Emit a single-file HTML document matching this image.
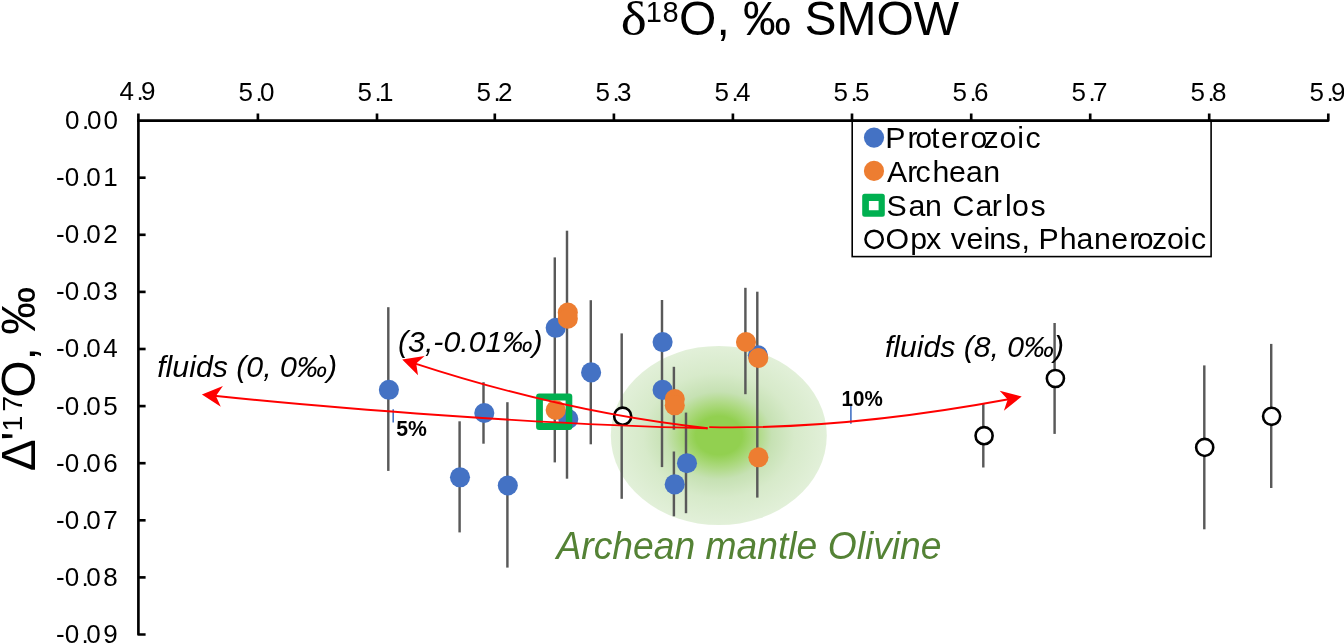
<!DOCTYPE html>
<html lang="en"><head><meta charset="utf-8"><title>Triple oxygen isotope plot</title>
<style>
html,body{margin:0;padding:0;background:#fff;}
body{width:1344px;height:644px;overflow:hidden;}
svg{display:block;}
text{font-family:'Liberation Sans',sans-serif;fill:#000;}
.tick{font-size:26px;}
.leg{font-size:30.3px;}
.it{font-style:italic;font-size:29.5px;}
.pct{font-weight:bold;font-size:21.2px;}
</style></head><body>
<svg width="1344" height="644" viewBox="0 0 1344 644">
<defs>
<radialGradient id="gm" cx="50%" cy="50%" r="50%">
<stop offset="0" stop-color="#92D050"/>
<stop offset="0.215" stop-color="#92D050"/>
<stop offset="0.35" stop-color="#ACD97F"/>
<stop offset="0.49" stop-color="#C6E1B3"/>
<stop offset="0.70" stop-color="#D7EACA"/>
<stop offset="1" stop-color="#E2F0D9"/>
</radialGradient>
</defs>
<rect width="1344" height="644" fill="#fff"/>
<ellipse cx="718.8" cy="435.5" rx="108" ry="89.6" fill="url(#gm)"/>
<g stroke="#595959" stroke-width="2.45" fill="none">
<line x1="388.3" y1="307.2" x2="388.3" y2="470.9"/>
<line x1="459.6" y1="421.3" x2="459.6" y2="532.4"/>
<line x1="483.5" y1="382.2" x2="483.5" y2="443.7"/>
<line x1="507.4" y1="402.2" x2="507.4" y2="567.6"/>
<line x1="554.8" y1="257.4" x2="554.8" y2="462.4"/>
<line x1="567.0" y1="230.7" x2="567.0" y2="478.7"/>
<line x1="590.8" y1="300.2" x2="590.8" y2="444.3"/>
<line x1="621.7" y1="333.4" x2="621.7" y2="498.8"/>
<line x1="662.0" y1="300.0" x2="662.0" y2="467.1"/>
<line x1="673.9" y1="366.8" x2="673.9" y2="429.7"/>
<line x1="673.9" y1="451.5" x2="673.9" y2="516.3"/>
<line x1="686.0" y1="412.6" x2="686.0" y2="513.2"/>
<line x1="745.4" y1="287.8" x2="745.4" y2="394.2"/>
<line x1="757.3" y1="291.7" x2="757.3" y2="497.6"/>
<line x1="983.3" y1="403.5" x2="983.3" y2="467.5"/>
<line x1="1054.6" y1="323.0" x2="1054.6" y2="433.9"/>
<line x1="1204.3" y1="365.4" x2="1204.3" y2="529.3"/>
<line x1="1271.2" y1="343.9" x2="1271.2" y2="488.0"/>
</g>
<g fill="#4472C4">
<circle cx="388.9" cy="389.8" r="10.05"/>
<circle cx="460.0" cy="477.3" r="10.05"/>
<circle cx="484.3" cy="413.0" r="10.05"/>
<circle cx="507.8" cy="485.5" r="10.05"/>
<circle cx="555.7" cy="327.8" r="10.05"/>
<circle cx="568.3" cy="419.0" r="10.05"/>
<circle cx="591.1" cy="372.4" r="10.05"/>
<circle cx="662.6" cy="342.1" r="10.05"/>
<circle cx="662.6" cy="389.9" r="10.05"/>
<circle cx="674.7" cy="484.4" r="10.05"/>
<circle cx="687.0" cy="463.2" r="10.05"/>
<circle cx="757.9" cy="355.3" r="10.05"/>
</g>
<path fill-rule="evenodd" fill="#00B050" d="M539.1 393.6 H569.3 A3 3 0 0 1 572.3 396.6 V426.9 A3 3 0 0 1 569.3 429.9 H539.1 A3 3 0 0 1 536.1 426.9 V396.6 A3 3 0 0 1 539.1 393.6 Z M542.9 400.4 V423.1 H565.8 V400.4 Z"/>
<g fill="#ED7D31">
<circle cx="567.8" cy="312.6" r="10.05"/>
<circle cx="567.8" cy="318.7" r="10.05"/>
<circle cx="555.7" cy="410.0" r="10.05"/>
<circle cx="674.8" cy="399.0" r="10.05"/>
<circle cx="674.8" cy="405.3" r="10.05"/>
<circle cx="746.0" cy="342.0" r="10.05"/>
<circle cx="758.3" cy="358.0" r="10.05"/>
<circle cx="758.4" cy="457.3" r="10.05"/>
</g>
<g fill="#fff" stroke="#000" stroke-width="2.6">
<circle cx="622.7" cy="416.2" r="8.55"/>
<circle cx="984.1" cy="435.7" r="8.55"/>
<circle cx="1055.4" cy="378.5" r="8.55"/>
<circle cx="1204.7" cy="447.4" r="8.55"/>
<circle cx="1271.6" cy="416.3" r="8.55"/>
</g>
<g stroke="#4472C4" stroke-width="1.6">
<line x1="393.2" y1="409.3" x2="393.2" y2="422.4"/>
<line x1="850.9" y1="405.8" x2="850.9" y2="423.8"/>
</g>
<g fill="none" stroke="#FF0000" stroke-width="1.9">
<path d="M707.6 428.2 C609.9 417.6 512.2 395.2 414.5 363.3"/>
<path d="M707.6 428.2 C543.1 425.0 327.6 407.7 214.0 395.7"/>
<path d="M709.2 427.1 C809.5 429.3 909.7 417.6 1010.0 399.0"/>
</g>
<g fill="#FF0000">
<path d="M201.9 394.4 L222.9 386.0 L215.9 396.0 L220.8 406.8 Z"/>
<path d="M402.2 359.4 L424.6 356.1 L416.2 363.4 L418.0 375.3 Z"/>
<path d="M1021.7 396.5 L999.7 390.7 L1007.7 399.5 L1003.9 410.8 Z"/>
</g>
<g stroke="#000" stroke-width="2.65" fill="none" stroke-linejoin="round">
<path d="M1328.3 113.5 V120.6 H137.1"/>
<path d="M138.4 113.5 V634.5 H145.6"/>
<line x1="257.9" y1="113.5" x2="257.9" y2="120.6"/>
<line x1="377.0" y1="113.5" x2="377.0" y2="120.6"/>
<line x1="494.8" y1="113.5" x2="494.8" y2="120.6"/>
<line x1="613.9" y1="113.5" x2="613.9" y2="120.6"/>
<line x1="732.9" y1="113.5" x2="732.9" y2="120.6"/>
<line x1="852.0" y1="113.5" x2="852.0" y2="120.6"/>
<line x1="971.2" y1="113.5" x2="971.2" y2="120.6"/>
<line x1="1090.2" y1="113.5" x2="1090.2" y2="120.6"/>
<line x1="1209.2" y1="113.5" x2="1209.2" y2="120.6"/>
<line x1="138.4" y1="177.7" x2="145.6" y2="177.7"/>
<line x1="138.4" y1="234.8" x2="145.6" y2="234.8"/>
<line x1="138.4" y1="291.9" x2="145.6" y2="291.9"/>
<line x1="138.4" y1="349.0" x2="145.6" y2="349.0"/>
<line x1="138.4" y1="406.1" x2="145.6" y2="406.1"/>
<line x1="138.4" y1="463.2" x2="145.6" y2="463.2"/>
<line x1="138.4" y1="520.3" x2="145.6" y2="520.3"/>
<line x1="138.4" y1="577.4" x2="145.6" y2="577.4"/>
</g>
<text class="tick" x="119.5 136.6 141.0" y="100.2">4.9</text>
<text class="tick" x="238.5 255.6 260.0" y="100.7">5.0</text>
<text class="tick" x="357.5 374.6 379.0" y="100.7">5.1</text>
<text class="tick" x="476.5 493.6 498.0" y="100.7">5.2</text>
<text class="tick" x="595.5 612.6 617.0" y="100.7">5.3</text>
<text class="tick" x="714.5 731.6 736.0" y="100.7">5.4</text>
<text class="tick" x="833.5 850.6 855.0" y="100.7">5.5</text>
<text class="tick" x="952.5 969.6 974.0" y="100.7">5.6</text>
<text class="tick" x="1071.5 1088.6 1093.0" y="100.7">5.7</text>
<text class="tick" x="1190.5 1207.6 1212.0" y="100.7">5.8</text>
<text class="tick" x="1309.5 1326.6 1331.0" y="100.7">5.9</text>
<text class="tick" x="65.0 82.1 87.0 103.5" y="129.0">0.00</text>
<text class="tick" x="55.9 64.7 81.6 86.2 103.3" y="186.1">-0.01</text>
<text class="tick" x="55.9 64.7 81.6 86.2 103.3" y="243.2">-0.02</text>
<text class="tick" x="55.9 64.7 81.6 86.2 103.3" y="300.3">-0.03</text>
<text class="tick" x="55.9 64.7 81.6 86.2 103.3" y="357.4">-0.04</text>
<text class="tick" x="55.9 64.7 81.6 86.2 103.3" y="414.5">-0.05</text>
<text class="tick" x="55.9 64.7 81.6 86.2 103.3" y="471.6">-0.06</text>
<text class="tick" x="55.9 64.7 81.6 86.2 103.3" y="528.7">-0.07</text>
<text class="tick" x="55.9 64.7 81.6 86.2 103.3" y="585.8">-0.08</text>
<text class="tick" x="55.9 64.7 81.6 86.2 103.3" y="642.9">-0.09</text>
<rect x="852.2" y="120.6" width="358.9" height="136.0" fill="none" stroke="#000" stroke-width="1.6"/>
<circle cx="874.0" cy="137.6" r="10.1" fill="#4472C4"/>
<circle cx="874.0" cy="170.9" r="10.1" fill="#ED7D31"/>
<path fill-rule="evenodd" fill="#00B050" d="M864.7 193.8 H882.3 A2.5 2.5 0 0 1 884.8 196.3 V214.3 A2.5 2.5 0 0 1 882.3 216.8 H864.7 A2.5 2.5 0 0 1 862.2 214.3 V196.3 A2.5 2.5 0 0 1 864.7 193.8 Z M868.9 201.0 V210.3 H878.6 V201.0 Z"/>
<circle cx="874.1" cy="239.3" r="8.65" fill="#fff" stroke="#000" stroke-width="2.55"/>
<text class="leg" x="885.3 907.4 915.2 931.1 941.0 959.0 970.5 983.6 999.6 1017.2 1025.5" y="148.4">Proterozoic</text>
<text class="leg" x="886.9 907.3 915.4 932.5 948.9 966.0 983.2" y="181.7">Archean</text>
<text class="leg" x="886.4 908.4 925.0 941.9 952.5 975.5 991.8 1005.1 1012.1 1030.4" y="215.5">San Carlos</text>
<text class="leg" x="885.6 910.3 925.9 941.0 950.7 966.6 983.4 989.3 1005.7 1021.5 1029.9 1038.6 1059.8 1076.6 1094.1 1111.3 1129.2 1136.8 1152.0 1167.0 1183.5 1191.1" y="249.3">Opx veins, Phanerozoic</text>
<text class="it" x="157.2" y="377.3" textLength="180.0" lengthAdjust="spacingAndGlyphs">fluids (0, 0‰)</text>
<text class="it" x="398.0" y="352.3" textLength="144.7" lengthAdjust="spacingAndGlyphs">(3,-0.01‰)</text>
<text class="it" x="885.0" y="357.3" textLength="179.0" lengthAdjust="spacingAndGlyphs">fluids (8, 0‰)</text>
<text class="pct" x="396.3" y="436.3">5%</text>
<text class="pct" x="841.5" y="405.9" textLength="41.2" lengthAdjust="spacingAndGlyphs">10%</text>
<text x="556.5" y="559.3" textLength="385" lengthAdjust="spacingAndGlyphs" style="font-style:italic;font-size:39px;fill:#548235">Archean mantle Olivine</text>
<text transform="translate(620.7 35.0) scale(1.15 1)" x="0" y="0" style="font-family:'Liberation Serif',serif;font-size:48px">δ</text>
<text x="645.7 662.4" y="22.3" style="font-size:29px">18</text>
<text x="679.1" y="35.0" style="font-size:48px">O, ‰ SMOW</text>
<g transform="translate(35.4 469.75) rotate(-90)">
<text x="-1.4 29.1" y="0" style="font-size:48px">Δ'</text>
<text x="38.3 58.0" y="-13.7" style="font-size:28.5px">17</text>
<text x="72.0 109.3 122.6 134.9" y="0" style="font-size:48px">O, ‰</text>
</g>
</svg>
</body></html>
